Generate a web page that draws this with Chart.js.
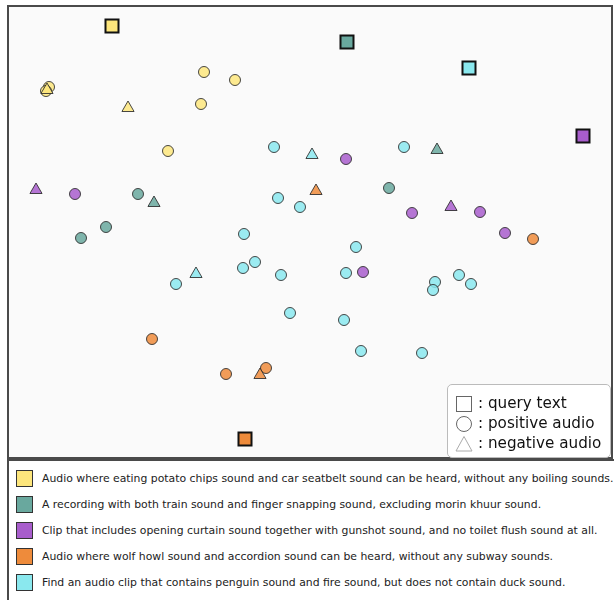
<!DOCTYPE html>
<html>
<head>
<meta charset="utf-8">
<script src="https://cdn.jsdelivr.net/npm/chart.js@4.4.1/dist/chart.umd.min.js"></script>
<style>
  html, body { margin: 0; padding: 0; background: #fff; font-family: "DejaVu Sans", sans-serif; }
  body { width: 614px; height: 600px; position: relative; overflow: hidden; }
  #plot { position: absolute; left: 7px; top: 5px; width: 602px; height: 450px; border: 2px solid #4a4a4a; background: #fafafa; }
  #plot canvas { position: absolute; left: 0; top: 0; }
  #key { position: absolute; left: 447px; top: 384px; width: 162px; height: 72px; border: 1px solid #bbb; border-radius: 5px; background: rgba(255,255,255,0.85); }
  .krow { position: absolute; left: 7px; height: 20px; font-size: 15.2px; color: #111; line-height: 20px; white-space: nowrap; }
  .krow svg { position: absolute; left: 0; top: 2px; }
  .krow span { position: absolute; left: 23px; top: 0; }
  #legend { position: absolute; left: 7px; top: 459px; width: 640px; height: 160px; border-left: 2px solid #4a4a4a; border-top: 2px solid #4a4a4a; }
  .lrow { position: absolute; left: 7px; height: 18px; font-size: 10.85px; color: #222; white-space: nowrap; }
  .lrow i { position: absolute; left: 0; top: 0; width: 15px; height: 15px; border: 1px solid #333; }
  .lrow span { position: absolute; left: 26px; top: 2px; line-height: 13px; }
</style>
</head>
<body>
<div id="plot"><canvas id="c"></canvas></div>
<div id="key">
  <div class="krow" style="top:8px"><svg width="18" height="18"><rect x="1.5" y="1.5" width="15" height="15" fill="none" stroke="#666" stroke-width="1"/></svg><span>: query text</span></div>
  <div class="krow" style="top:28px"><svg width="18" height="18"><circle cx="9" cy="9" r="7.5" fill="none" stroke="#666" stroke-width="1"/></svg><span>: positive audio</span></div>
  <div class="krow" style="top:48px"><svg width="18" height="18"><polygon points="9,1.5 17,16 1,16" fill="none" stroke="#aaa" stroke-width="1"/></svg><span>: negative audio</span></div>
</div>
<div id="legend"></div>
<script>
// queries and their colours
const categories = [
  'Audio where eating potato chips sound and car seatbelt sound can be heard, without any boiling sounds.',
  'A recording with both train sound and finger snapping sound, excluding morin khuur sound.',
  'Clip that includes opening curtain sound together with gunshot sound, and no toilet flush sound at all.',
  'Audio where wolf howl sound and accordion sound can be heard, without any subway sounds.',
  'Find an audio clip that contains penguin sound and fire sound, but does not contain duck sound.'
]
const colors = ['#fde67c', '#69a89e', '#a85dcc', '#ee8b3b', '#8ae8ee']

// 2-D embedding positions, [x, y] per point
const queryPts = [[112, 26], [347, 42], [583, 136], [245, 439], [469, 68]]
const positivePts = [
  [[49, 87], [46, 91], [204, 72], [235, 80], [201, 104], [168, 151]],
  [[138, 194], [106, 227], [81, 238], [389, 188]],
  [[75, 194], [346, 159], [412, 213], [480, 212], [505, 233], [363, 272]],
  [[533, 239], [152, 339], [226, 374], [266, 368]],
  [[274, 147], [404, 147], [278, 198], [300, 207], [244, 234], [356, 247], [255, 262], [243, 268],
    [281, 275], [346, 273], [435, 282], [433, 290], [459, 275], [471, 284], [176, 284], [290, 313],
    [344, 320], [361, 351], [422, 353]]
]
const negativePts = [
  [[47, 90], [128, 108]],
  [[154, 203], [437, 150]],
  [[36, 190], [451, 207]],
  [[316, 191], [260, 375]],
  [[312, 155], [196, 274]]
]

const alpha = (hex, a) => {
  const n = parseInt(hex.slice(1), 16)
  return `rgba(${n >> 16}, ${(n >> 8) & 255}, ${n & 255}, ${a})`
}
const toXY = (pts) => pts.map(([x, y]) => ({ x, y }))

// lower order is drawn on top: query squares, then triangles, then circles
const datasets = [{
  label: 'query text',
  data: toXY(queryPts),
  order: 0,
  pointStyle: 'rect',
  pointRadius: 9.2,
  backgroundColor: colors,
  borderColor: '#111',
  borderWidth: 2
}]
categories.forEach((label, i) => {
  datasets.push({
    label: label + ' (negative)',
    data: toXY(negativePts[i]),
    order: 1,
    pointStyle: 'triangle',
    pointRadius: 7,
    backgroundColor: alpha(colors[i], 0.85),
    borderColor: 'rgba(40, 40, 40, 0.85)',
    borderWidth: 1
  })
  datasets.push({
    label: label + ' (positive)',
    data: toXY(positivePts[i]),
    order: 2,
    pointStyle: 'circle',
    pointRadius: 5.5,
    backgroundColor: alpha(colors[i], 0.85),
    borderColor: 'rgba(40, 40, 40, 0.85)',
    borderWidth: 1
  })
})

const cv = document.getElementById('c')
cv.width = 602
cv.height = 450
cv.style.width = '602px'
cv.style.height = '450px'

new Chart(cv, {
  type: 'scatter',
  data: { datasets },
  options: {
    responsive: false,
    animation: false,
    layout: { padding: 0, autoPadding: false },
    plugins: { legend: { display: false }, tooltip: { enabled: false } },
    elements: { point: { hoverRadius: 6 } },
    scales: {
      x: { type: 'linear', min: 9, max: 611, display: false },
      y: { type: 'linear', min: 7, max: 457, reverse: true, display: false }
    }
  }
})

const legend = document.getElementById('legend')
categories.forEach((label, i) => {
  const row = document.createElement('div')
  row.className = 'lrow'
  row.style.top = (8.5 + i * 26) + 'px'
  row.innerHTML = `<i style="background:${colors[i]}"></i><span>${label}</span>`
  legend.appendChild(row)
})
</script>
</body>
</html>
